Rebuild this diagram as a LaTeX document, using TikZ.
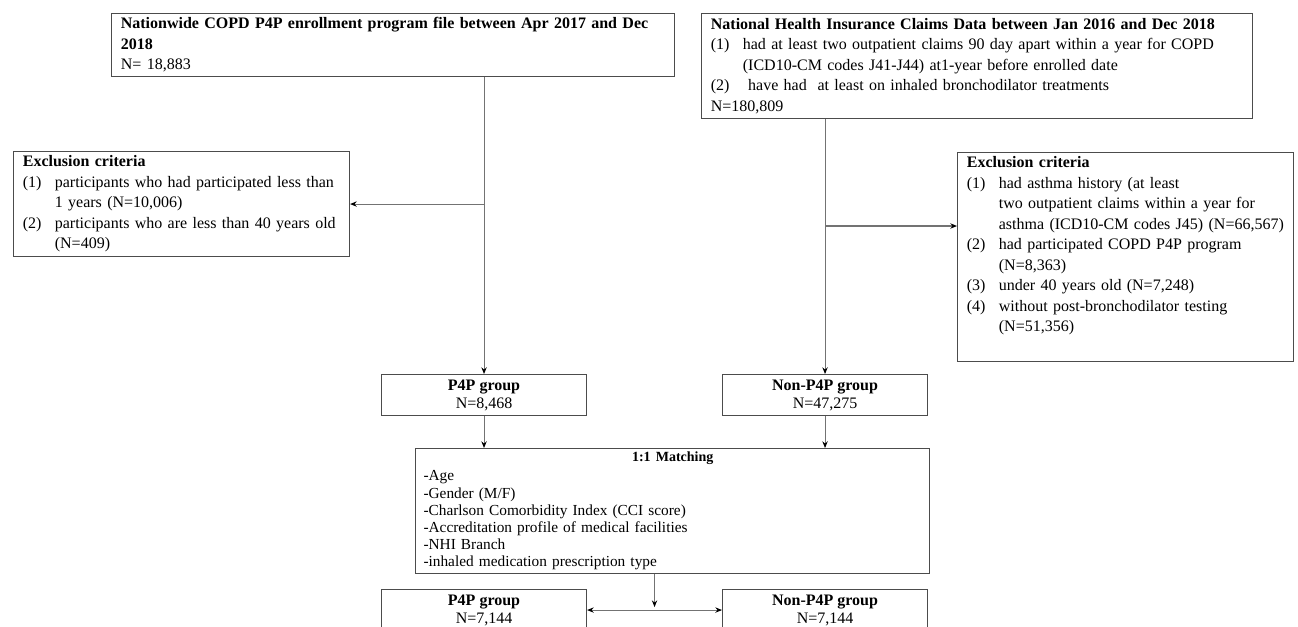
\documentclass[tikz,border=0pt]{standalone}
\usepackage{fontspec}
\setmainfont{Liberation Serif}
\usetikzlibrary{arrows.meta}
\usetikzlibrary{calc}

\newcommand{\nr}[1]{\makebox[2em][l]{#1}}

\begin{document}
\begin{tikzpicture}[x=0.75pt,y=-0.75pt,>={Stealth[black,length=5pt,width=4pt]},
doboz/.style={rectangle,draw=black!70,line width=0.8pt,anchor=north west,inner xsep=7pt,inner ysep=3pt,
  align=left,font=\fontsize{12}{15.4}\selectfont},
csoport/.style={doboz,align=center,minimum width=153.75pt,minimum height=30.75pt,inner ysep=1pt,
  font=\fontsize{12}{13.5}\selectfont}]
\useasboundingbox (0,0) rectangle (1298,626);
\clip (0,0) rectangle (1298,626);
\node[doboz,text width=408pt](enroll) at (111,13){\textbf{Nationwide COPD P4P enrollment program file between Apr 2017 and Dec}\\
  \textbf{2018}\\
  N= 18,883};
\node[doboz,text width=399pt,minimum height=78.75pt](claims) at (701,13){\textbf{National Health Insurance Claims Data between Jan 2016 and Dec 2018}\\
  \nr{(1)}had at least two outpatient claims 90 day apart within a year for COPD\\
  \nr{}(ICD10-CM codes J41-J44) at1-year before enrolled date\\
  \nr{(2)}\ have had\ \ at least on inhaled bronchodilator treatments\\
  N=180,809};
\node[doboz,text width=238pt,minimum height=78.75pt](excl1) at (13,151){\textbf{Exclusion criteria}\\
  \nr{(1)}participants who had participated less than\\
  \nr{}1 years (N=10,006)\\
  \nr{(2)}participants who are less than 40 years old\\
  \nr{}(N=409)};
\node[doboz,text width=238pt](excl2) at (957,152){\textbf{Exclusion criteria}\\
  \nr{(1)}had asthma history (at least\\
  \nr{}two outpatient claims within a year for\\
  \nr{}asthma (ICD10-CM codes J45) (N=66,567)\\
  \nr{(2)}had participated COPD P4P program\\
  \nr{}(N=8,363)\\
  \nr{(3)}under 40 years old (N=7,248)\\
  \nr{(4)}without post-bronchodilator testing\\
  \nr{}(N=51,356)\rule[-19pt]{0pt}{19pt}};
\node[csoport](p4p) at (381,374){\textbf{P4P group}\\N=8,468};
\node[csoport](nonp4p) at (722,374){\textbf{Non-P4P group}\\N=47,275};
\node[doboz,text width=373.75pt,minimum height=93.75pt,inner xsep=6pt,inner ysep=2pt,
  font=\fontsize{11.5}{12.9}\selectfont](match) at (415,448){\makebox[\linewidth]{\fontsize{10.5}{12.9}\selectfont\textbf{1:1 Matching}}\\[1.5pt]
  -Age\\
  -Gender (M/F)\\
  -Charlson Comorbidity Index (CCI score)\\
  -Accreditation profile of medical facilities\\
  -NHI Branch\\
  -inhaled medication prescription type};
\node[csoport](fin1) at (381,589){\textbf{P4P group}\\N=7,144};
\node[csoport](fin2) at (722,589){\textbf{Non-P4P group}\\N=7,144};
\coordinate (ag2) at ($(excl2.north west)+(0,74)$);
\coordinate (kozep) at ($(fin1.east)!.5!(fin2.west)$);
\begin{scope}[line width=0.8pt,color=black!55]
\draw[->] (enroll.south -| p4p.north)--(p4p.north);
\draw[->] (claims.south -| nonp4p.north)--(nonp4p.north);
\draw[->] (excl1.east -| p4p.north)--(excl1.east);
\draw[->] (ag2 -| nonp4p.north)--(ag2);
\draw[->] (p4p.south)--(p4p.south |- match.north);
\draw[->] (nonp4p.south)--(nonp4p.south |- match.north);
\draw[->] (kozep |- match.south)--($(kozep)+(0,-3)$);
\draw[<->] (fin1.east)--(fin2.west);
\end{scope}
\end{tikzpicture}
\end{document}
